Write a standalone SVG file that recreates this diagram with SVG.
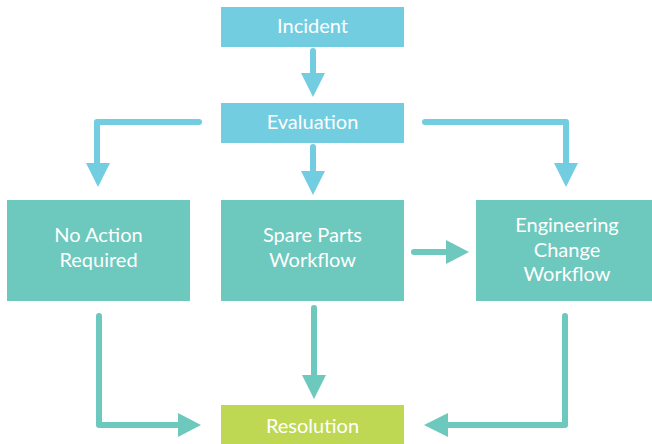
<svg xmlns="http://www.w3.org/2000/svg" width="652" height="444" viewBox="0 0 652 444">
<style>
.blue{fill:#72CDE0}
.teal{fill:#6DC8BD}
.green{fill:#BED853}
.t{font-family:Lato,"Open Sans",sans-serif;font-size:20px;fill:#ffffff;text-anchor:middle}
.lb{fill:none;stroke:#72CDE0;stroke-width:6;stroke-linecap:round;stroke-linejoin:round}
.lt{fill:none;stroke:#6DC8BD;stroke-width:6;stroke-linecap:round;stroke-linejoin:round}
.hb{fill:#72CDE0}
.ht{fill:#6DC8BD}
</style>
<rect width="652" height="444" fill="#ffffff"/>
<g id="connectors">
<path class="lb" d="M313 51V74"/>
<polygon class="hb" points="301,73 325,73 313,97"/>
<path class="lb" d="M313 147V172"/>
<polygon class="hb" points="301,171 325,171 313,195"/>
<path class="lb" d="M199 122H97V164"/>
<polygon class="hb" points="86,163 110,163 98,187"/>
<path class="lb" d="M425 122H566V164"/>
<polygon class="hb" points="554,163 578,163 566,187"/>
<path class="lt" d="M414 252H447"/>
<polygon class="ht" points="446,240 446,264 469,252"/>
<path class="lt" d="M99 316V425H179"/>
<polygon class="ht" points="178,413 178,437 201,425"/>
<path class="lt" d="M314 308V376"/>
<polygon class="ht" points="302,375 326,375 314,399"/>
<path class="lt" d="M565 316V425H447"/>
<polygon class="ht" points="448,413 448,437 424,425"/>
</g>
<g id="incident">
<rect class="blue" x="221" y="7" width="183" height="40"/>
<text class="t" x="312.5" y="33">Incident</text>
</g>
<g id="evaluation">
<rect class="blue" x="221" y="103" width="183" height="40"/>
<text class="t" x="312.5" y="129">Evaluation</text>
</g>
<g id="no-action">
<rect class="teal" x="7" y="200" width="183" height="101"/>
<text class="t" x="98.5" y="242">No Action</text>
<text class="t" x="98.5" y="267">Required</text>
</g>
<g id="spare-parts">
<rect class="teal" x="221" y="200" width="183" height="101"/>
<text class="t" x="312.5" y="242">Spare Parts</text>
<text class="t" x="312.5" y="267">Workflow</text>
</g>
<g id="engineering">
<rect class="teal" x="476" y="200" width="183" height="101"/>
<text class="t" x="567" y="232">Engineering</text>
<text class="t" x="567" y="257">Change</text>
<text class="t" x="567" y="281">Workflow</text>
</g>
<g id="resolution">
<rect class="green" x="221" y="405" width="183" height="39"/>
<text class="t" x="312.5" y="433">Resolution</text>
</g>
</svg>
